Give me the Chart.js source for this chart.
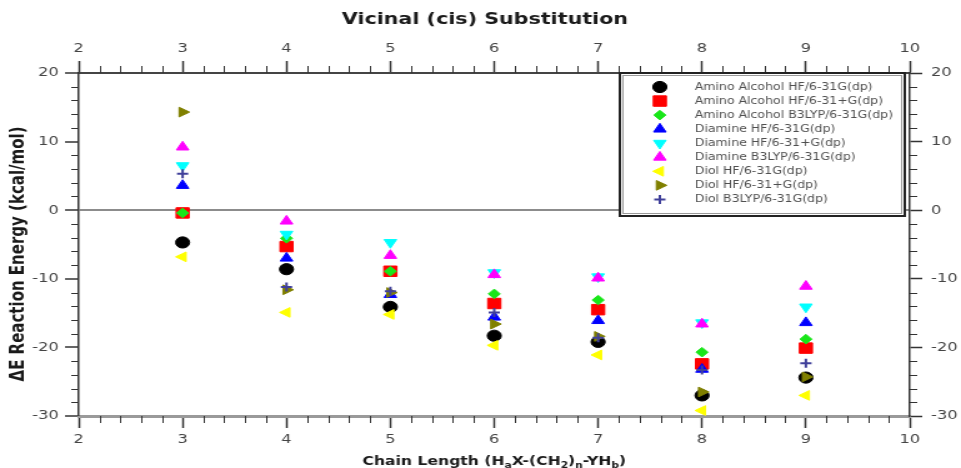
<!DOCTYPE html>
<html>
<head>
<meta charset="utf-8">
<title>Vicinal (cis) Substitution</title>
<script src="https://cdn.jsdelivr.net/npm/chart.js@4.4.1/dist/chart.umd.min.js"></script>
<style>
  html, body { margin: 0; padding: 0; background: #fff; }
</style>
</head>
<body>
<!-- drawn on a narrower canvas and stretched to the page width -->
<canvas id="myChart" width="769" height="468" style="display:block;width:961px;height:468px"></canvas>
<script>
// chain length n
var chainLength = [3, 4, 5, 6, 7, 8, 9];

// reaction energies, kcal/mol
var aminoAlcoholHF     = [-4.7,  -8.6, -14.1, -18.3, -19.2, -27.0, -24.4];
var aminoAlcoholHFplus = [-0.4,  -5.3,  -8.9, -13.6, -14.5, -22.4, -20.1];
var aminoAlcoholB3LYP  = [-0.4,  -4.1,  -8.9, -12.2, -13.1, -20.7, -18.8];
var diamineHF          = [ 3.6,  -7.0, -12.3, -15.6, -16.1, -23.2, -16.4];
var diamineHFplus      = [ 6.5,  -3.5,  -4.7,  -9.1,  -9.7, -16.4, -14.1];
var diamineB3LYP       = [ 9.2,  -1.6,  -6.6,  -9.4,  -9.9, -16.6, -11.1];
var diolHF             = [-6.8, -14.9, -15.2, -19.7, -21.1, -29.2, -27.0];
var diolHFplus         = [14.3, -11.6, -12.0, -16.6, -18.4, -26.5, -24.3];
var diolB3LYP          = [ 5.3, -11.2, -11.8, -14.9, -18.6, -23.3, -22.3];

var seriesLabels = [
    'Amino Alcohol HF/6-31G(dp)',
    'Amino Alcohol HF/6-31+G(dp)',
    'Amino Alcohol B3LYP/6-31G(dp)',
    'Diamine HF/6-31G(dp)',
    'Diamine HF/6-31+G(dp)',
    'Diamine B3LYP/6-31G(dp)',
    'Diol HF/6-31G(dp)',
    'Diol HF/6-31+G(dp)',
    'Diol B3LYP/6-31G(dp)'
];
var seriesValues = [aminoAlcoholHF, aminoAlcoholHFplus, aminoAlcoholB3LYP,
    diamineHF, diamineHFplus, diamineB3LYP, diolHF, diolHFplus, diolB3LYP];

var chartTitle = 'Vicinal (cis) Substitution';
var yTitle = '\u0394E Reaction Energy (kcal/mol)';
// [text, subscript?]
var xTitleParts = [['Chain Length (H', false], ['a', true], ['X-(CH', false], ['2', true],
    [')', false], ['n', true], ['-YH', false], ['b', true], [')', false]];

var markers = [
    { style: 'circle',   color: '#000000', radius: 5.6, rotation: 0 },
    { style: 'rect',     color: '#ff0000', radius: 7.4, rotation: 0 },
    { style: 'rectRot',  color: '#19e619', radius: 4.8, rotation: 0 },
    { style: 'triangle', color: '#0000ff', radius: 5.8, rotation: 0 },
    { style: 'triangle', color: '#00ffff', radius: 5.8, rotation: 180 },
    { style: 'triangle', color: '#ff00ff', radius: 5.8, rotation: 0 },
    { style: 'triangle', color: '#ffff00', radius: 5.6, rotation: 270 },
    { style: 'triangle', color: '#808000', radius: 5.6, rotation: 90 },
    { style: 'cross',    color: '#40409a', radius: 4.5, rotation: 0 }
];

Chart.defaults.font.family = 'DejaVu Sans';

var datasets = seriesValues.map(function (values, i) {
    var m = markers[i];
    return {
        label: seriesLabels[i],
        data: chainLength.map(function (n, j) { return { x: n, y: values[j] }; }),
        showLine: false,
        pointStyle: m.style,
        pointRadius: m.radius,
        pointHoverRadius: m.radius,
        pointRotation: m.rotation,
        pointBackgroundColor: m.color,
        pointBorderColor: m.color,
        pointBorderWidth: m.style === 'cross' ? 2 : 1,
        order: seriesValues.length - i   // later series sit on top
    };
});

// minor tick marks between the labelled ones
var minorTicks = {
    id: 'minorTicks',
    afterDraw: function (chart) {
        var ctx = chart.ctx;
        var sc = chart.scales;
        ctx.save();
        ctx.strokeStyle = '#333';
        ctx.lineWidth = 1;
        ctx.beginPath();
        for (var k = 1; k < 40; k++) {
            if (k % 5 === 0) continue;
            var v = 2 + k * 0.2;
            var px = Math.round(sc.x.getPixelForValue(v)) + 0.5;
            ctx.moveTo(px, sc.x.top); ctx.lineTo(px, sc.x.top + 7);
            ctx.moveTo(px, sc.x2.bottom); ctx.lineTo(px, sc.x2.bottom - 7);
        }
        for (var j = 1; j < 25; j++) {
            if (j % 5 === 0) continue;
            var py = Math.round(sc.y.getPixelForValue(-30 + j * 2)) + 0.5;
            ctx.moveTo(sc.y.right, py); ctx.lineTo(sc.y.right - 6, py);
            ctx.moveTo(sc.y2.left, py); ctx.lineTo(sc.y2.left + 6, py);
        }
        ctx.stroke();
        ctx.restore();
    }
};

// titles and the boxed legend
var annotations = {
    id: 'annotations',
    afterDraw: function (chart) {
        var ctx = chart.ctx;
        var area = chart.chartArea;
        ctx.save();
        ctx.fillStyle = '#1a1a1a';
        ctx.textAlign = 'center';
        ctx.textBaseline = 'middle';
        ctx.font = 'bold 16.5px "DejaVu Sans"';
        ctx.fillText(chartTitle, 388, 20);

        ctx.save();
        ctx.translate(15, 254);
        ctx.rotate(-Math.PI / 2);
        ctx.font = 'bold 15px "DejaVu Sans"';
        ctx.fillText(yTitle, 0, 0);
        ctx.restore();

        // x title with subscripts
        var big = 'bold 12.5px "DejaVu Sans"', small = 'bold 8.5px "DejaVu Sans"';
        var total = 0;
        xTitleParts.forEach(function (p) { ctx.font = p[1] ? small : big; total += ctx.measureText(p[0]).width; });
        var x = (area.left + area.right) / 2 - total / 2;
        var base = 465;
        ctx.textAlign = 'left';
        ctx.textBaseline = 'alphabetic';
        xTitleParts.forEach(function (p) {
            ctx.font = p[1] ? small : big;
            ctx.fillText(p[0], x, p[1] ? base + 3 : base);
            x += ctx.measureText(p[0]).width;
        });

        // legend
        var bx = 496, by = 73, bw = 228, bh = 143;
        ctx.fillStyle = '#fff';
        ctx.fillRect(bx, by, bw, bh);
        ctx.strokeStyle = '#9a9a9a';
        ctx.lineWidth = 1;
        ctx.strokeRect(bx + 2.5, by + 2.5, bw - 5, bh - 5);
        ctx.strokeStyle = '#222';
        ctx.lineWidth = 2;
        ctx.strokeRect(bx, by, bw, bh);

        ctx.font = '10px "DejaVu Sans"';
        ctx.textBaseline = 'middle';
        seriesLabels.forEach(function (label, i) {
            var m = markers[i];
            var ly = 87 + i * 14.05;
            ctx.fillStyle = m.color;
            ctx.strokeStyle = m.color;
            ctx.lineWidth = m.style === 'cross' ? 2 : 1;
            Chart.helpers.drawPoint(ctx, {
                pointStyle: m.style, radius: m.radius, rotation: m.rotation,
                borderWidth: m.style === 'cross' ? 2 : 1
            }, 528, ly);
            ctx.fillStyle = '#505050';
            ctx.fillText(label, 556, ly);
        });
        ctx.restore();
    }
};

var tickFont = { family: 'DejaVu Sans', size: 13 };

var ctx = document.getElementById('myChart').getContext('2d');
var myChart = new Chart(ctx, {
    type: 'scatter',
    data: { datasets: datasets },
    options: {
        responsive: false,
        animation: false,
        devicePixelRatio: 1,
        events: [],
        layout: { padding: 0 },
        plugins: {
            legend: { display: false },
            tooltip: { enabled: false },
            title: { display: false }
        },
        scales: {
            x: {
                type: 'linear', position: 'bottom', min: 2, max: 10,
                ticks: { stepSize: 1, color: '#444', font: tickFont, padding: 4 },
                grid: { drawOnChartArea: false, tickLength: 12, tickColor: '#333', tickWidth: 1.5 },
                border: { color: '#9a9a9a', width: 3 },
                afterFit: function (s) { s.height = 52; }
            },
            x2: {
                type: 'linear', position: 'top', min: 2, max: 10,
                ticks: { stepSize: 1, color: '#444', font: tickFont, padding: 5 },
                grid: { drawOnChartArea: false, tickLength: 12, tickColor: '#333', tickWidth: 1.5 },
                border: { color: '#444', width: 2 },
                afterFit: function (s) { s.height = 73; }
            },
            y: {
                type: 'linear', position: 'left', min: -30, max: 20,
                ticks: { stepSize: 10, color: '#444', font: tickFont, padding: 5 },
                grid: {
                    color: function (c) { return c.tick && c.tick.value === 0 ? '#8c8c8c' : 'rgba(0,0,0,0)'; },
                    lineWidth: function (c) { return c.tick && c.tick.value === 0 ? 2 : 0; },
                    tickLength: 11, tickColor: '#333', tickWidth: 1.5
                },
                border: { color: '#333', width: 1.5 },
                afterFit: function (s) { s.width = 63; }
            },
            y2: {
                type: 'linear', position: 'right', min: -30, max: 20,
                ticks: { stepSize: 10, color: '#444', font: tickFont, padding: 7 },
                grid: { drawOnChartArea: false, tickLength: 10, tickColor: '#333', tickWidth: 1.5 },
                border: { color: '#333', width: 1.5 },
                afterFit: function (s) { s.width = 41; }
            }
        }
    },
    plugins: [minorTicks, annotations]
});
</script>
</body>
</html>
